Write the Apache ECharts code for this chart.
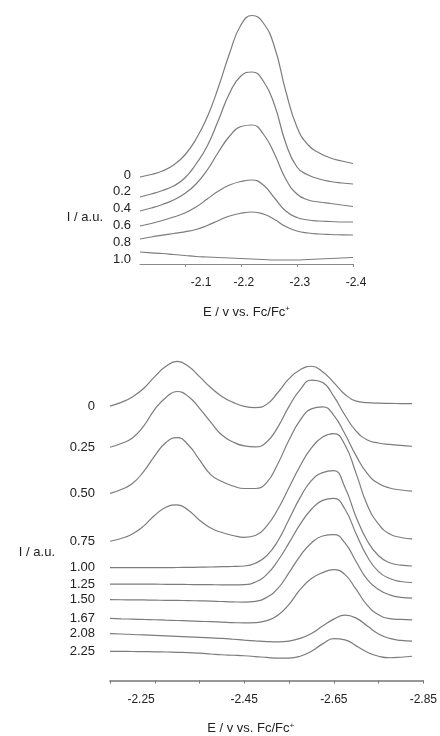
<!DOCTYPE html>
<html>
<head>
<meta charset="utf-8">
<script src="https://cdn.jsdelivr.net/npm/echarts@6/dist/echarts.min.js"></script>
<style>
  html, body { margin: 0; padding: 0; background: #fff; }
  #chart { width: 440px; height: 736px; }
</style>
</head>
<body>
<div id="chart"></div>
<script>
// ---- Upper panel: potentials (V vs. Fc/Fc+) and currents (a.u.) ----
const topPotential = [-2.02, -2.04, -2.06, -2.08, -2.10, -2.12, -2.14, -2.16, -2.18, -2.20,
                      -2.22, -2.24, -2.26, -2.28, -2.30, -2.32, -2.34, -2.36, -2.38, -2.40];
const topLabels = ['0', '0.2', '0.4', '0.6', '0.8', '1.0'];
const topTickLabels = ['-2.1', '-2.2', '-2.3', '-2.4'];
const topCurve0   = [87, 89.5, 93, 99, 109, 125, 147, 177, 211, 239, 248.5, 241, 217, 173, 137, 119, 111, 106, 103, 100.5];
const topCurve02  = [67, 70, 73.5, 78, 86, 100, 118, 144, 171, 188, 192, 183, 159, 121, 97, 89, 85, 82.5, 81, 80];
const topCurve04  = [53, 56, 59.5, 64, 70.5, 80, 94, 112, 128, 137.5, 139, 130, 110, 85, 70, 64, 62, 60.5, 59, 57.5];
const topCurve06  = [38, 40.5, 43.5, 47, 51, 57, 65, 73, 79, 82.5, 84, 79, 66, 53, 46.5, 44, 43, 42.5, 42, 42];
const topCurve08  = [25, 27, 28.8, 30.5, 32.2, 34.5, 38.5, 43.5, 48, 50.8, 52, 50, 44.5, 37.5, 33, 31, 30, 29.5, 29.2, 29];
const topCurve10  = [12, 11.2, 10.5, 9.5, 8.5, 7.5, 7, 6.5, 6, 5.5, 5, 4.5, 4, 4, 4, 4.5, 5, 5.5, 6, 6.5];

// ---- Lower panel ----
const botPotential = [-2.150, -2.175, -2.200, -2.225, -2.250, -2.275, -2.300, -2.325, -2.350, -2.375,
                      -2.400, -2.425, -2.450, -2.475, -2.500, -2.525, -2.550, -2.575, -2.600, -2.625,
                      -2.650, -2.675, -2.700, -2.725, -2.750, -2.775, -2.800, -2.825];
const botLabels = ['0', '0.25', '0.50', '0.75', '1.00', '1.25', '1.50', '1.67', '2.08', '2.25'];
const botTickValues = [-2.15, -2.25, -2.35, -2.45, -2.55, -2.65, -2.75, -2.85];
const botTickLabels = ['-2.25', '-2.45', '-2.65', '-2.85'];
const botCurve000 = [277.3, 281, 286.5, 295, 307, 317.5, 322.5, 317.5, 307, 296, 287, 281, 277, 275.7, 279, 291, 305, 314, 317.5, 312, 301, 289, 282.3, 280.8, 280.2, 280, 279.8, 279.7];
const botCurve025 = [235.7, 239.5, 245, 257, 274, 286, 292, 287, 275, 261, 248, 241, 237, 236, 241, 256, 277, 294, 303.5, 301, 287, 268, 252, 243, 240, 238.5, 237.5, 236.7];
const botCurve050 = [189, 193, 199, 211, 227, 240.5, 245.5, 238, 223, 208, 201, 196.5, 194, 194, 200, 219, 243, 263, 274.5, 276.5, 268, 249, 227, 209, 199, 194.5, 192.5, 191.3];
const botCurve075 = [140.7, 143.5, 148, 156, 167, 175, 177.5, 172, 162, 154, 149.5, 146.5, 144.7, 146.5, 156, 173, 195, 217, 235, 246, 249.5, 238, 209, 177, 158, 148, 144.5, 143];
const botCurve100 = [114, 114, 114, 114, 114, 114, 114.2, 114.3, 114.5, 114.7, 115, 115.3, 115.7, 118.5, 126, 141, 163, 185, 202, 210, 212, 195, 165, 141, 126, 119, 116.5, 115.7];
const botCurve125 = [97.3, 97.3, 97.3, 97.3, 97.3, 97.2, 97.1, 97, 96.9, 96.8, 96.7, 96.7, 96.9, 99.5, 107, 121, 139, 158, 173, 182, 184, 173, 148, 125, 110, 103, 100, 99];
const botCurve150 = [81.7, 81.6, 81.5, 81.4, 81.2, 81, 80.9, 80.7, 80.5, 80.3, 79.8, 79.4, 79.2, 80, 84, 93, 109, 126, 139, 146, 147.3, 139, 120, 102, 92, 86.5, 84, 83.3];
const botCurve167 = [62.7, 62.3, 62, 61.7, 61.4, 61, 60.6, 60.2, 59.8, 59.4, 59, 58.5, 58.2, 58.5, 60.5, 66, 77, 92, 103, 109, 112, 107, 92, 76, 66.5, 62.5, 61.7, 61.3];
const botCurve208 = [47.3, 47, 46.5, 46, 45.5, 45, 44.5, 44, 43.5, 43, 42.5, 41.7, 40.8, 40, 39.3, 39, 39.8, 42.5, 47.5, 55, 62, 66, 63, 55, 47, 42.5, 40.5, 39.7];
const botCurve225 = [29.5, 29.4, 29.3, 29.2, 29, 28.8, 28.5, 28.2, 27.6, 26.8, 26, 25.5, 25, 24.2, 23.3, 22.6, 22.6, 24.5, 29.5, 37, 42.3, 41, 35, 28.5, 24.5, 23, 23.5, 24.5];

const topCurves = [topCurve0, topCurve02, topCurve04, topCurve06, topCurve08, topCurve10];
const botCurves = [botCurve000, botCurve025, botCurve050, botCurve075, botCurve100,
                   botCurve125, botCurve150, botCurve167, botCurve208, botCurve225];

const FONT = "'Liberation Sans', Arial, sans-serif";
const TEXT = '#222';
const CURVE = '#7c7c7c';
const nameRich = {
  sup: { fontSize: 8, verticalAlign: 'top', padding: [0, 0, 6, 0], color: TEXT, fontFamily: FONT }
};

function pairs(xs, ys) { return xs.map((x, i) => [x, ys[i]]); }

const series = [];
topCurves.forEach((c, k) => {
  series.push({
    type: 'line', name: 'top-' + topLabels[k], xAxisIndex: 0, yAxisIndex: 0,
    data: pairs(topPotential, c), smooth: 0.5, symbol: 'none',
    lineStyle: { color: CURVE, width: 1.2 }, silent: true
  });
});
botCurves.forEach((c, k) => {
  const d = pairs(botPotential, c);
  d[0] = {
    value: d[0],
    label: { show: true, position: 'left', distance: 15, formatter: botLabels[k],
             fontSize: 13, color: TEXT, fontFamily: FONT }
  };
  series.push({
    type: 'line', name: 'bot-' + botLabels[k], xAxisIndex: 2, yAxisIndex: 2,
    data: d, smooth: 0.5, symbol: 'circle', symbolSize: 0, showSymbol: true,
    itemStyle: { color: CURVE },
    lineStyle: { color: CURVE, width: 1.2 }, silent: true
  });
});

const chart = echarts.init(document.getElementById('chart'), null, { renderer: 'canvas' });
chart.setOption({
  animation: false,
  backgroundColor: '#fff',
  grid: [
    { left: 140, right: 87, top: 14, bottom: 472 },
    { left: 140, right: 87, top: 166.6, height: 100.8 },
    { left: 110, right: 5, top: 344, bottom: 52 }
  ],
  xAxis: [
    {
      gridIndex: 0, type: 'value', min: -2.4, max: -2.02, inverse: true,
      axisLine: { lineStyle: { color: '#8a8a8a', width: 1 } },
      axisTick: { customValues: topTickLabels.map(Number), length: 3, lineStyle: { color: '#8a8a8a' } },
      axisLabel: { customValues: topTickLabels.map(Number), formatter: v => v.toFixed(1),
                   alignMinLabel: 'left', margin: 13, fontSize: 12, color: TEXT, fontFamily: FONT,
                   padding: [0, 0, 0, 6] },
      splitLine: { show: false },
      name: 'E / v vs. Fc/Fc{sup|+}', nameLocation: 'middle', nameGap: 41,
      nameTextStyle: { fontSize: 13, color: TEXT, fontFamily: FONT, rich: nameRich }
    },
    { gridIndex: 1, type: 'value', show: false },
    {
      gridIndex: 2, type: 'value', min: -2.85, max: -2.15, inverse: true,
      axisLine: { lineStyle: { color: '#777', width: 1.6 } },
      axisTick: { customValues: botTickValues, length: 3, lineStyle: { color: '#777' } },
      axisLabel: { customValues: botTickLabels.map(Number), formatter: v => v.toFixed(2),
                   alignMinLabel: 'right', margin: 13, fontSize: 12, color: TEXT, fontFamily: FONT },
      splitLine: { show: false },
      name: 'E / v vs. Fc/Fc{sup|+}', nameLocation: 'middle', nameGap: 41,
      nameTextStyle: { fontSize: 13, color: TEXT, fontFamily: FONT, rich: nameRich, padding: [0, 32, 0, 0] }
    }
  ],
  yAxis: [
    { gridIndex: 0, type: 'value', min: 0, max: 250, show: false },
    {
      gridIndex: 1, type: 'category', data: topLabels, inverse: true,
      axisLine: { show: false }, axisTick: { show: false }, splitLine: { show: false },
      axisLabel: { interval: 0, margin: 9, fontSize: 13, color: TEXT, fontFamily: FONT },
      name: 'I / a.u.', nameLocation: 'middle', nameRotate: 0, nameGap: 37,
      nameTextStyle: { fontSize: 13, color: TEXT, fontFamily: FONT }
    },
    { gridIndex: 2, type: 'value', min: 0, max: 340, show: false }
  ],
  graphic: [
    { type: 'text', x: 55, y: 552,
      style: { text: 'I / a.u.', fill: TEXT, font: '13px ' + FONT, align: 'right', verticalAlign: 'middle' } }
  ],
  series: series
});
</script>
</body>
</html>
